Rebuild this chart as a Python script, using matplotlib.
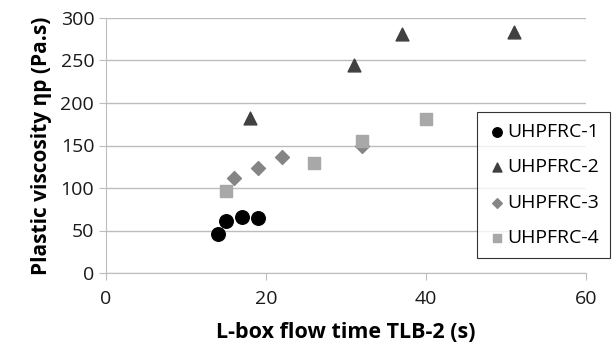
import matplotlib.pyplot as plt

# UHPFRC series
x1 = [14, 15, 17, 19]
y1 = [46, 61, 66, 65]
x2 = [18, 31, 37, 51]
y2 = [182, 245, 281, 283]
x3 = [16, 19, 22, 32]
y3 = [112, 124, 136, 149]
x4 = [15, 26, 32, 40]
y4 = [96, 129, 155, 181]

labels = ['UHPFRC-1', 'UHPFRC-2', 'UHPFRC-3', 'UHPFRC-4']
xticks = [0, 20, 40, 60]
yticks = [0, 50, 100, 150, 200, 250, 300]

plt.rcParams['font.family'] = ['Open Sans', 'DejaVu Sans']

fig = plt.figure(figsize=(6.14, 3.6), dpi=100)
ax = fig.add_axes([106 / 614, 1 - 273 / 360, 480 / 614, 255 / 360])

ax.scatter(x1, y1, marker='o', s=95, color='black', label=labels[0], zorder=3)
ax.scatter(x2, y2, marker='^', s=85, color='#404040', label=labels[1], zorder=3)
ax.scatter(x3, y3, marker='D', s=50, color='#858585', label=labels[2], zorder=3)
ax.scatter(x4, y4, marker='s', s=85, color='#a8a8a8', label=labels[3], zorder=3)

ax.set_xlim(0, 60)
ax.set_ylim(0, 300)
ax.set_xticks(xticks)
ax.set_yticks(yticks)
ax.yaxis.grid(True, color='#bdbdbd', linewidth=1)
ax.set_axisbelow(True)
for side in ['top', 'right']:
    ax.spines[side].set_visible(False)
for side in ['left', 'bottom']:
    ax.spines[side].set_color('#bdbdbd')
ax.tick_params(axis='both', colors='#bdbdbd', labelcolor='#1a1a1a', labelsize=14, length=5)
ax.tick_params(axis='x', pad=7)

ax.set_xlabel('L-box flow time TLB-2 (s)', fontsize=15.5, fontweight='bold', labelpad=10)
ax.set_ylabel('Plastic viscosity ηp (Pa.s)', fontsize=15, fontweight='bold', labelpad=6)

leg = ax.legend(loc='upper left', bbox_to_anchor=(477 / 614, 1 - 112 / 360), bbox_transform=fig.transFigure,
                fontsize=14, frameon=True, fancybox=False, edgecolor='black', handletextpad=0.0,
                handlelength=1.0, labelspacing=0.9, borderpad=0.55, borderaxespad=0, markerscale=0.7)
leg.get_frame().set_linewidth(0.8)

fig.savefig('out.png', dpi=100)
